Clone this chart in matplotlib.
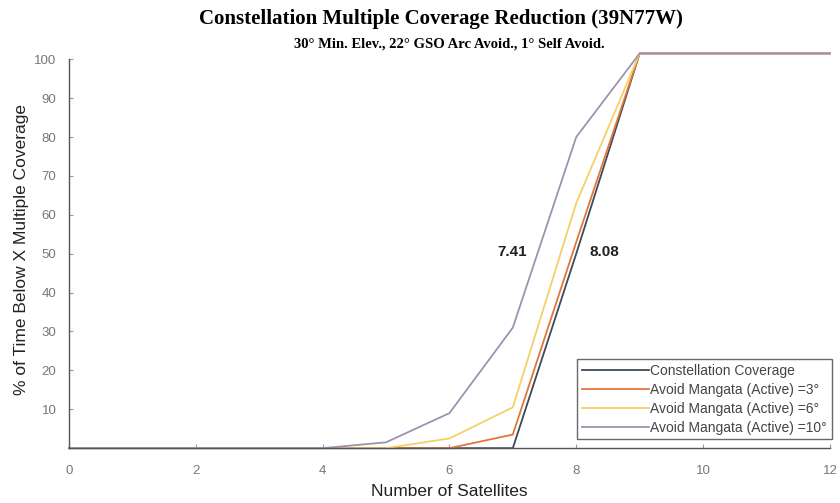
import numpy as np
import matplotlib
matplotlib.use("Agg")
import matplotlib.pyplot as plt

# Number of satellites
sats = [0, 1, 2, 3, 4, 5, 6, 7, 8, 9, 10, 11, 12]

# % of time below X multiple coverage
constellation = [0, 0, 0, 0, 0, 0, 0, 0, 50, 101.5, 101.5, 101.5, 101.5]
avoid_3 = [0, 0, 0, 0, 0, 0, 0, 3.5, 53, 101.5, 101.5, 101.5, 101.5]
avoid_6 = [0, 0, 0, 0, 0, 0, 2.5, 10.5, 63, 101.5, 101.5, 101.5, 101.5]
avoid_10 = [0, 0, 0, 0, 0, 1.5, 9, 31, 80, 101.5, 101.5, 101.5, 101.5]

labels = ["Constellation Coverage",
          "Avoid Mangata (Active) =3\u00b0",
          "Avoid Mangata (Active) =6\u00b0",
          "Avoid Mangata (Active) =10\u00b0"]
colors = ["#3d4a58", "#e2763a", "#f2d166", "#9c93b3"]

annotations = [(6.99, 50.5, "7.41"), (8.45, 50.5, "8.08")]

fig = plt.figure(figsize=(8.4, 5.03), dpi=100)
ax = fig.add_axes([0.082, 0.109, 0.906, 0.791])

series = [constellation, avoid_3, avoid_6, avoid_10]
for ys, c, lab in zip(series, colors, labels):
    ax.plot(sats, ys, color=c, lw=1.3, label=lab, clip_on=False)

for x, y, t in annotations:
    ax.text(x, y, t, fontsize=11, fontweight="bold", ha="center",
            va="center", family="Liberation Sans", color="#222222")

ax.set_xlim(0, 12)
ax.set_ylim(0, 102.3)
ax.set_xticks(range(0, 13, 2))
ax.set_yticks(range(10, 101, 10))
ax.spines["top"].set_visible(False)
ax.spines["right"].set_visible(False)
ax.spines["left"].set_bounds(0, 100)
for s in ["left", "bottom"]:
    ax.spines[s].set_color("#555555")
    ax.spines[s].set_linewidth(1.0)
ax.tick_params(direction="in", length=3, color="#999999",
               labelcolor="#777777", labelsize=9.5, pad=9)
ax.tick_params(axis="x", pad=12)
for lab in ax.get_xticklabels() + ax.get_yticklabels():
    lab.set_family("Liberation Sans")

ax.set_xlabel("Number of Satellites", fontsize=12.5, family="Liberation Sans",
              color="#222222", labelpad=5)
ax.set_ylabel("% of Time Below X Multiple Coverage", fontsize=12.5,
              family="Liberation Sans", color="#222222", labelpad=4)

fig.text(0.525, 0.962, "Constellation Multiple Coverage Reduction (39N77W)",
         ha="center", va="center", fontsize=15, fontweight="bold",
         family="Liberation Serif")
fig.text(0.535, 0.912, "30\u00b0 Min. Elev., 22\u00b0 GSO Arc Avoid., 1\u00b0 Self Avoid.",
         ha="center", va="center", fontsize=10.5, fontweight="bold",
         family="Liberation Serif")

leg = ax.legend(loc="lower right", bbox_to_anchor=(1.006, 0.015),
                prop={"family": "Liberation Sans", "size": 10},
                frameon=True, fancybox=False, handlelength=4.8,
                handletextpad=0.1, borderpad=0.35, labelspacing=0.35,
                borderaxespad=0.2)
leg.get_frame().set_edgecolor("#444444")
leg.get_frame().set_linewidth(1.0)
for t in leg.get_texts():
    t.set_color("#444444")

fig.savefig("out.png", dpi=100)
